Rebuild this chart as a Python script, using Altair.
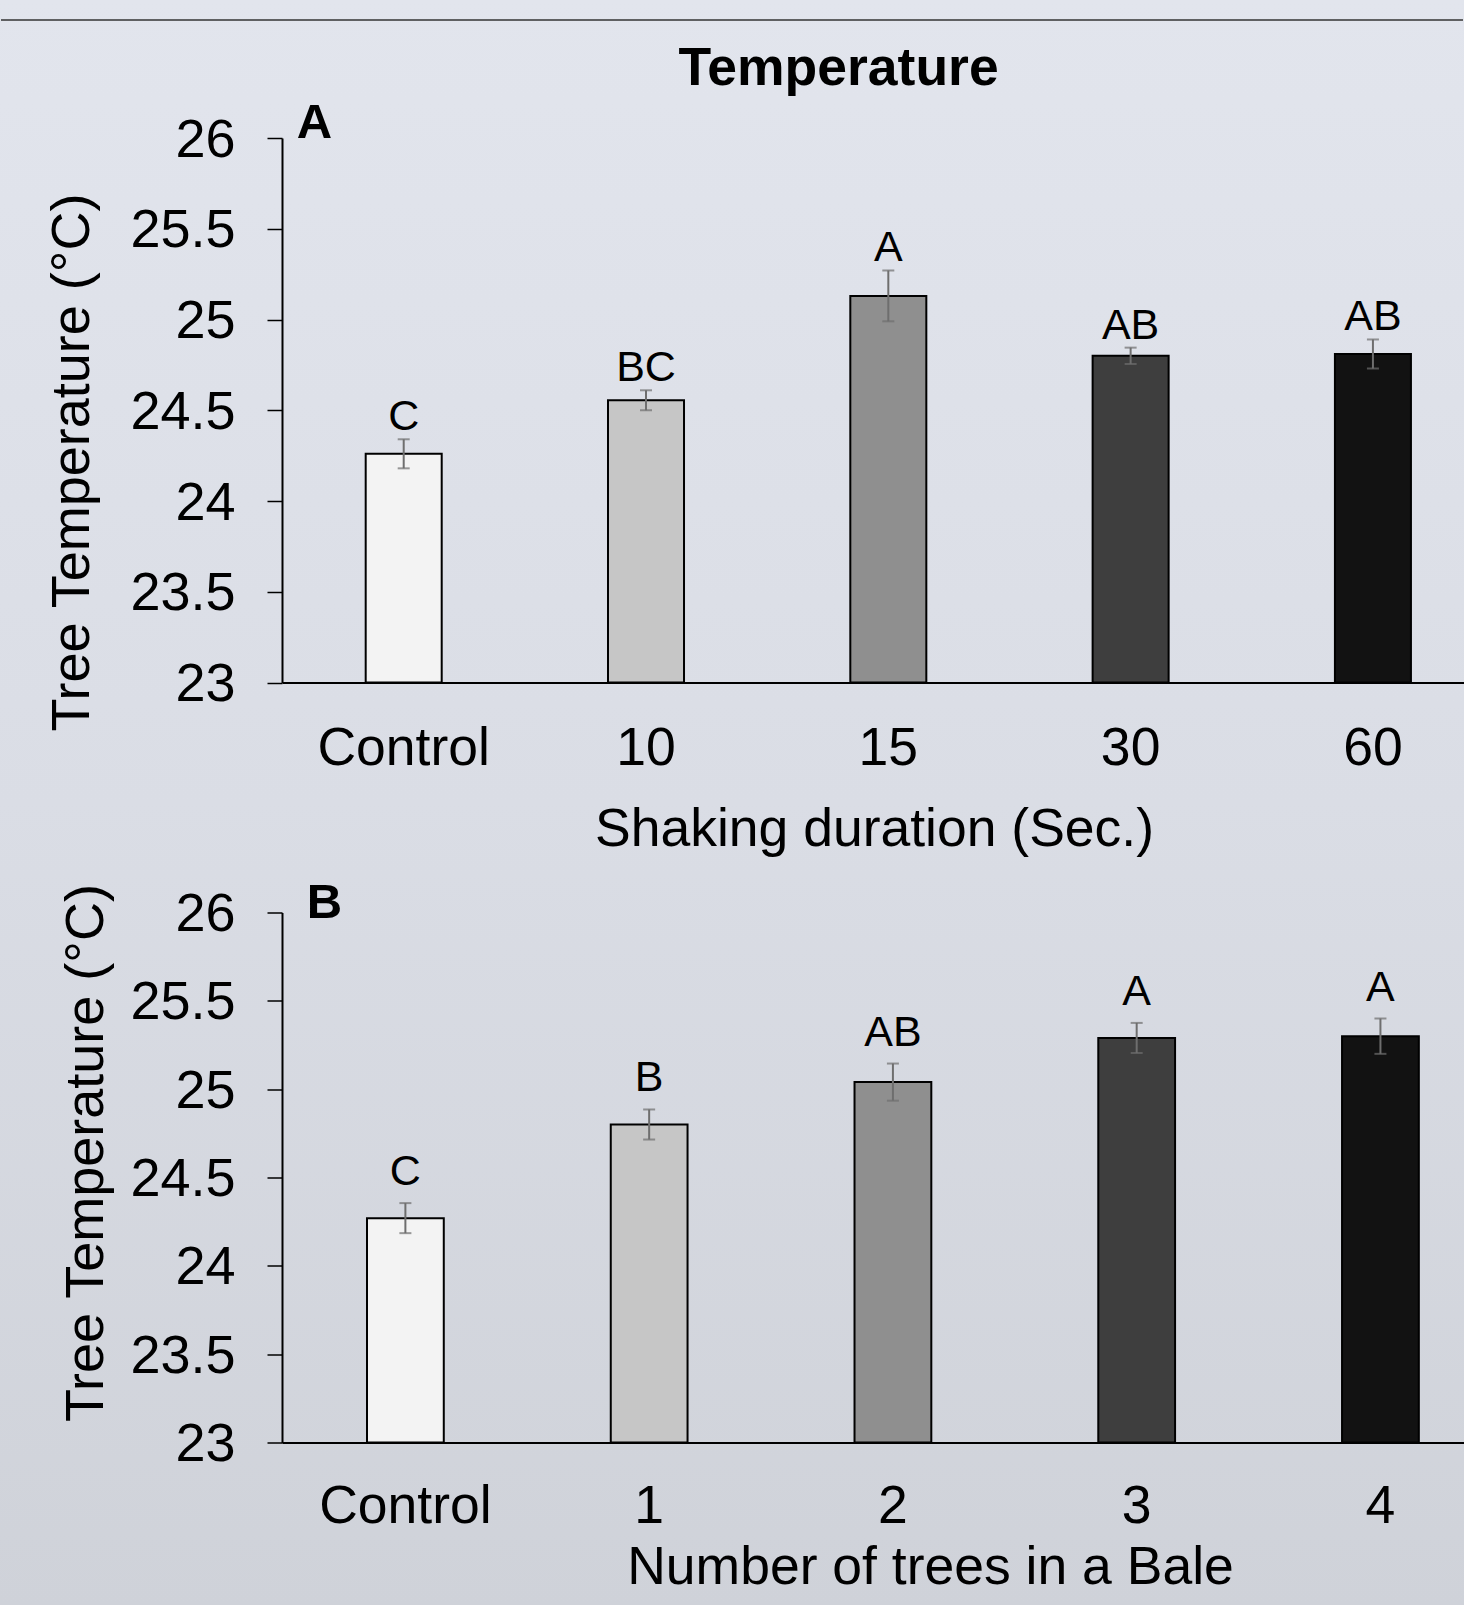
import altair as alt
import pandas as pd

# ---------------- data ----------------
cats_a = ["Control", "10", "15", "30", "60"]
means_a = [24.26, 24.555, 25.13, 24.80, 24.81]
se_a = [0.08, 0.055, 0.14, 0.045, 0.08]
letters_a = ["C", "BC", "A", "AB", "AB"]

cats_b = ["Control", "1", "2", "3", "4"]
means_b = [24.27, 24.80, 25.04, 25.29, 25.30]
se_b = [0.085, 0.085, 0.105, 0.085, 0.10]
letters_b = ["C", "B", "AB", "A", "A"]

y_ticks = [23, 23.5, 24, 24.5, 25, 25.5, 26]

# ---------------- style ----------------
FONT = "Liberation Sans"
FILLS = ["#f3f3f3", "#c6c6c6", "#8f8f8f", "#3e3e3e", "#121212"]
ERR_COLOR = "#6e6e6e"
W = 1182
LEFT = 282
TOP = 138
TOTAL_H = 1605


def panel(cats, means, se, letters, H, pad_in, pad_out, align, xtitle,
          ytitle_x, ytitle_y, xtitle_x, xtitle_y, xlabel_pad, letter_dy,
          extras):
    df = pd.DataFrame({
        "cat": cats,
        "mean": means,
        "lo": [m - s for m, s in zip(means, se)],
        "hi": [m + s for m, s in zip(means, se)],
        "letter": letters,
    })
    xaxis = alt.Axis(
        title=xtitle, labelAngle=0, labelFont=FONT, labelFontSize=53.5,
        labelColor="black", labelPadding=xlabel_pad, ticks=False, tickSize=0,
        domainColor="black", domainWidth=2, grid=False, zindex=1,
        titleFont=FONT, titleFontSize=53.5, titleFontWeight="normal",
        titleColor="black", titleX=xtitle_x, titleY=xtitle_y,
        titleBaseline="alphabetic", titleAlign="center",
    )
    yaxis = alt.Axis(
        title="Tree Temperature (°C)", values=y_ticks, format=".1~f",
        labelFont=FONT, labelFontSize=54, labelColor="black",
        labelPadding=32, labelOffset=2, tickSize=15, tickColor="black",
        tickWidth=1.5, domainColor="black", domainWidth=2, grid=False,
        zindex=1, titleFont=FONT, titleFontSize=54, titleFontWeight="normal",
        titleColor="black", titleX=ytitle_x, titleY=ytitle_y,
        titleBaseline="alphabetic", titleAlign="center", titleAngle=270,
    )
    xs = alt.Scale(domain=cats, paddingInner=pad_in, paddingOuter=pad_out,
                   align=align)
    ys = alt.Scale(domain=[23, 26], nice=False, zero=False)
    x = alt.X("cat:N", sort=cats, scale=xs, axis=xaxis)

    base = alt.Chart(df)
    bars = base.mark_bar(stroke="black", strokeWidth=2).encode(
        x=x,
        y=alt.Y("mean:Q", scale=ys, axis=yaxis),
        y2=alt.datum(23),
        color=alt.Color("cat:N", scale=alt.Scale(domain=cats, range=FILLS),
                        legend=None),
    )
    err = base.mark_rule(color=ERR_COLOR, strokeWidth=2).encode(
        x=x, y=alt.Y("lo:Q", scale=ys, axis=yaxis), y2="hi:Q")
    cap_lo = base.mark_tick(color=ERR_COLOR, thickness=2, size=12,
                            orient="horizontal").encode(
        x=x, y=alt.Y("lo:Q", scale=ys, axis=yaxis))
    cap_hi = base.mark_tick(color=ERR_COLOR, thickness=2, size=12,
                            orient="horizontal").encode(
        x=x, y=alt.Y("hi:Q", scale=ys, axis=yaxis))
    labels = base.mark_text(font=FONT, fontSize=43, color="black",
                            baseline="alphabetic", align="center",
                            dy=letter_dy).encode(
        x=x, y=alt.Y("hi:Q", scale=ys, axis=yaxis), text="letter:N")

    return alt.layer(*extras, bars, err, cap_lo, cap_hi, labels).properties(
        width=W, height=H)


one = alt.Data(values=[{"k": 1}])
bg = alt.Chart(one).mark_rect(
    strokeWidth=0,
    fill={"gradient": "linear", "x1": 0, "y1": 0, "x2": 0, "y2": 1,
          "stops": [{"offset": 0, "color": "#e2e5ed"},
                    {"offset": 0.5, "color": "#dadde5"},
                    {"offset": 1, "color": "#cfd2d9"}]},
).encode(x=alt.value(-LEFT), x2=alt.value(W), y=alt.value(-TOP),
         y2=alt.value(TOTAL_H - TOP))
top_line = alt.Chart(one).mark_rule(color="#333333", strokeWidth=1.5).encode(
    x=alt.value(-LEFT + 1), x2=alt.value(W - 1), y=alt.value(20 - TOP))
main_title = alt.Chart(one).mark_text(
    text="Temperature", font=FONT, fontSize=53.5, fontWeight="bold",
    color="black", align="center", baseline="alphabetic",
).encode(x=alt.value(838.6 - LEFT), y=alt.value(85 - TOP))
letter_a = alt.Chart(one).mark_text(
    text="A", font=FONT, fontSize=49, fontWeight="bold", color="black",
    align="left", baseline="alphabetic",
).encode(x=alt.value(14.7), y=alt.value(0))
letter_b = alt.Chart(one).mark_text(
    text="B", font=FONT, fontSize=49, fontWeight="bold", color="black",
    align="left", baseline="alphabetic",
).encode(x=alt.value(24.7), y=alt.value(5))

panel_a = panel(cats_a, means_a, se_a, letters_a, H=544.5,
                pad_in=0.6863, pad_out=0.2822, align=0.612,
                xtitle="Shaking duration (Sec.)",
                ytitle_x=-194, ytitle_y=324,
                xtitle_x=592, xtitle_y=162.5, xlabel_pad=40.2,
                letter_dy=-9,
                extras=[bg, top_line, main_title, letter_a])

panel_b = panel(cats_b, means_b, se_b, letters_b, H=530,
                pad_in=0.685, pad_out=0.267, align=0.653,
                xtitle="Number of trees in a Bale",
                ytitle_x=-179.5, ytitle_y=240,
                xtitle_x=648, xtitle_y=140.7, xlabel_pad=38.4,
                letter_dy=-18,
                extras=[letter_b])

chart = alt.vconcat(panel_a, panel_b, spacing=229.5, bounds="flush").properties(
    padding=0, background="#dadde5"
).resolve_scale(color="independent").configure_view(strokeWidth=0)

chart.save("out.html", embed_options={"renderer": "svg", "actions": False})
